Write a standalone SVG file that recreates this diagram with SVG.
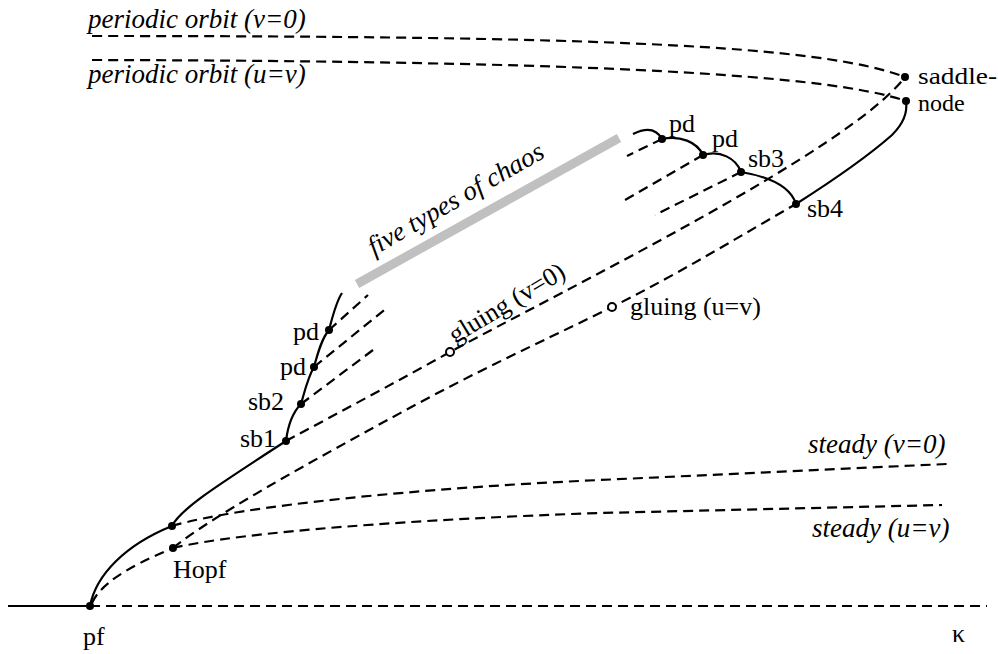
<svg xmlns="http://www.w3.org/2000/svg" width="998" height="654" viewBox="0 0 998 654">
<style>
.s{fill:none;stroke:#000;stroke-width:2.2}
.d{fill:none;stroke:#000;stroke-width:2.2;stroke-dasharray:10 6}
.dot{fill:#000}
.ring{fill:#fff;stroke:#000;stroke-width:2}
.t{font-family:"Liberation Serif","Times New Roman",serif;font-size:26px;fill:#000}
.sn{font-family:"Liberation Serif","Times New Roman",serif;font-size:24px;fill:#000}
.i{font-family:"Liberation Serif","Times New Roman",serif;font-size:27px;font-style:italic;fill:#000}
</style>
<rect width="998" height="654" fill="#fff"/>
<line x1="357" y1="284" x2="619" y2="138" stroke="#c0c0c0" stroke-width="9"/>
<g id="connectors">
  <path class="s" d="M8,606 L90,606"/>
  <path class="d" d="M90,606 L987,606"/>
  <path class="s" d="M90,606 C96,575 125,545 172,526"/>
  <path class="d" d="M92,603 C100,585 125,568 173,548"/>
  <path class="s" d="M172,526 C180,510 210,490 286,441"/>
  <path class="d" d="M172,526 C240,506 420,488 600,480 L947,464"/>
  <path class="d" d="M173,548 C240,532 420,519 600,513 L942,505"/>
  <path class="d" d="M173,548 C210,518 300,467 430,397 C500,360 560,333 612,307 C680,273 740,236 796,204"/>
  <path class="d" d="M286,441 C340,412 400,380 450,352 C560,292 850,150 905,77"/>
  <path class="s" d="M286,441 C288,425 293,412 301,404 C305,390 308,377 314,367 C318,352 322,338 329,330 C333,315 336,302 342,293"/>
  <path class="d" d="M301,404 L377,347"/>
  <path class="d" d="M314,367 L388,307"/>
  <path class="d" d="M329,330 L368,295"/>
  <path class="s" d="M633,134 C645,128 656,128 662,139 C680,135 697,142 703,155 C720,150 736,158 741,172 C765,176 790,185 796,204"/>
  <path class="d" d="M662,139 L627,156"/>
  <path class="d" d="M703,155 L625,200"/>
  <path class="d" d="M741,172 L655,215"/>
  <path class="s" d="M796,204 C840,176 875,150 892,135 C902,125 908,115 906,102"/>
  <path class="d" d="M92,36 C600,36 820,45 905,77"/>
  <path class="d" d="M92,60 C600,61 830,75 906,101"/>
</g>
<g id="pf"><circle class="dot" cx="90" cy="606" r="4"/><text class="t" x="83" y="645">pf</text></g>
<g id="hopf"><circle class="dot" cx="173" cy="548" r="4"/><text class="t" x="173" y="578">Hopf</text></g>
<g id="branch"><circle class="dot" cx="172" cy="526" r="4"/></g>
<g id="sb1"><circle class="dot" cx="286" cy="441" r="4"/><text class="t" x="240" y="447">sb1</text></g>
<g id="sb2"><circle class="dot" cx="301" cy="404" r="4"/><text class="t" x="248" y="410">sb2</text></g>
<g id="pd1"><circle class="dot" cx="314" cy="367" r="4"/><text class="t" x="280" y="375">pd</text></g>
<g id="pd2"><circle class="dot" cx="329" cy="330" r="4"/><text class="t" x="293" y="340">pd</text></g>
<g id="gluing-v0"><circle class="ring" cx="450" cy="352" r="4"/><text class="t" transform="translate(455,344) rotate(-31)">gluing (v=0)</text></g>
<g id="gluing-uv"><circle class="ring" cx="612" cy="307" r="4"/><text class="t" x="630" y="315">gluing (u=v)</text></g>
<g id="pd3"><circle class="dot" cx="662" cy="139" r="4"/><text class="t" x="669" y="132">pd</text></g>
<g id="pd4"><circle class="dot" cx="703" cy="155" r="4"/><text class="t" x="712" y="147">pd</text></g>
<g id="sb3"><circle class="dot" cx="741" cy="172" r="4"/><text class="t" x="748" y="167">sb3</text></g>
<g id="sb4"><circle class="dot" cx="796" cy="204" r="4"/><text class="t" x="807" y="217">sb4</text></g>
<g id="saddle-node"><circle class="dot" cx="905" cy="77" r="4"/><circle class="dot" cx="906" cy="101" r="4"/><text class="sn" x="918" y="84" textLength="79" lengthAdjust="spacingAndGlyphs">saddle-</text><text class="sn" x="918" y="111">node</text></g>
<g id="labels">
  <text class="i" x="88" y="28">periodic orbit (v=0)</text>
  <text class="i" x="88" y="83">periodic orbit (u=v)</text>
  <text class="i" x="808" y="453">steady (v=0)</text>
  <text class="i" x="812" y="537">steady (u=v)</text>
  <text class="i" transform="translate(374,256) rotate(-30)">five types of chaos</text>
  <text class="t" x="952" y="642">κ</text>
</g>
</svg>
